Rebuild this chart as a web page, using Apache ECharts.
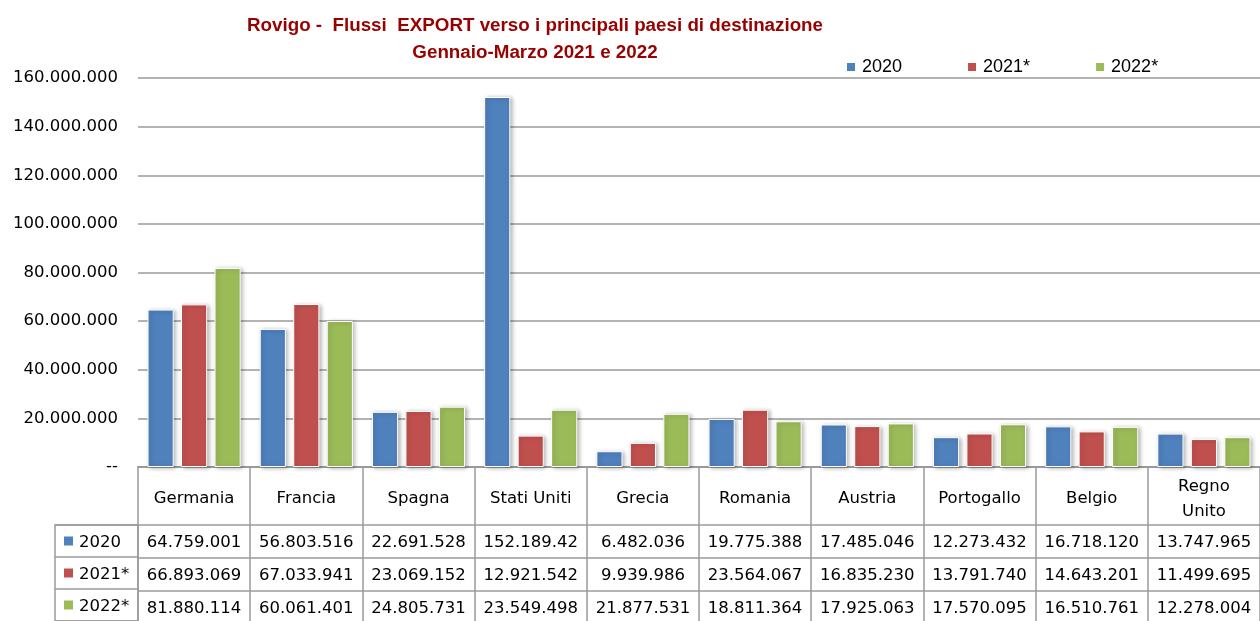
<!DOCTYPE html>
<html>
<head>
<meta charset="utf-8">
<script src="https://cdn.jsdelivr.net/npm/echarts@6/dist/echarts.min.js"></script>
<style>
  html, body { margin: 0; padding: 0; background: #fff; }
  #chart { width: 1260px; height: 621px; }
</style>
</head>
<body>
<div id="chart"></div>
<script>
// paesi di destinazione
var paesi = ['Germania', 'Francia', 'Spagna', 'Stati Uniti', 'Grecia', 'Romania', 'Austria', 'Portogallo', 'Belgio', 'Regno\nUnito']
var anni = ['2020', '2021*', '2022*']
var colori = ['#4F81BD', '#C0504D', '#9BBB59']

var export2020 = [64759001, 56803516, 22691528, 152189420, 6482036, 19775388, 17485046, 12273432, 16718120, 13747965]
var export2021 = [66893069, 67033941, 23069152, 12921542, 9939986, 23564067, 16835230, 13791740, 14643201, 11499695]
var export2022 = [81880114, 60061401, 24805731, 23549498, 21877531, 18811364, 17925063, 17570095, 16510761, 12278004]
var righe = [export2020, export2021, export2022]

var yMax = 160000000
var yStep = 20000000

function puntini(v) {
  return String(v).replace(/\B(?=(\d{3})+(?!\d))/g, '.')
}

var grigio = '#9a9a9a'
var fontTab = 'DejaVu Sans'

// righe della tabella dati: un asse x per ogni anno
var assiTabella = righe.map(function (riga, i) {
  return {
    type: 'category',
    gridIndex: 0,
    position: 'bottom',
    offset: 58 + i * 33,
    data: paesi,
    axisLine: { show: true, lineStyle: { color: grigio, width: 1.5 } },
    axisTick: { show: false },
    axisLabel: {
      interval: 0,
      margin: 18,
      verticalAlign: 'middle',
      fontFamily: fontTab,
      fontSize: 16.5,
      color: '#000',
      // la cella di Excel taglia oltre 10 caratteri
      formatter: function (val, idx) {
        return puntini(riga[idx]).slice(0, 10)
      }
    }
  }
})

var series = righe.map(function (riga, i) {
  return {
    name: anni[i],
    type: 'bar',
    xAxisIndex: 0,
    yAxisIndex: 0,
    data: riga,
    barGap: '28%',
    barCategoryGap: '17%',
    itemStyle: {
      color: colori[i],
      borderColor: '#fff',
      borderWidth: 1,
      shadowColor: 'rgba(0,0,0,0.28)',
      shadowBlur: 4,
      shadowOffsetX: 2,
      shadowOffsetY: 1
    }
  }
})

var option = {
  animation: false,
  backgroundColor: '#fff',
  title: {
    text: 'Rovigo -  Flussi  EXPORT verso i principali paesi di destinazione\nGennaio-Marzo 2021 e 2022',
    left: 530,
    top: 7,
    textAlign: 'center',
    textStyle: {
      color: '#990000',
      fontFamily: 'Liberation Sans',
      fontWeight: 'bold',
      fontSize: 18.8,
      lineHeight: 27
    }
  },
  legend: {
    data: anni,
    left: 840,
    top: 53,
    itemWidth: 10,
    itemHeight: 10,
    itemGap: 64,
    icon: 'rect',
    textStyle: { fontFamily: 'Liberation Sans', fontSize: 18, color: '#000', padding: [0, 0, 0, 1] }
  },
  grid: [
    { left: 138, right: -5, top: 78, bottom: 154 },
    // colonna legenda della tabella
    { left: 55, width: 83, top: 525, height: 99, show: true, borderColor: grigio, borderWidth: 1.5 }
  ],
  xAxis: [
    {
      type: 'category',
      gridIndex: 0,
      data: paesi,
      axisLine: { show: true, lineStyle: { color: grigio, width: 2 } },
      axisTick: { show: true, interval: 0, length: 156, lineStyle: { color: grigio, width: 1.5 } },
      axisLabel: {
        interval: 0,
        margin: 32,
        verticalAlign: 'middle',
        fontFamily: fontTab,
        fontSize: 16.5,
        lineHeight: 25,
        color: '#000'
      }
    }
  ].concat(assiTabella).concat([
    { type: 'value', gridIndex: 1, show: false }
  ]),
  yAxis: [
    {
      type: 'value',
      gridIndex: 0,
      min: 0,
      max: yMax,
      interval: yStep,
      axisLine: { show: false },
      axisTick: { show: false },
      splitLine: { lineStyle: { color: grigio, width: 1.5 } },
      axisLabel: {
        margin: 20,
        fontFamily: fontTab,
        fontSize: 16.5,
        color: '#000',
        formatter: function (v) {
          return v === 0 ? '--' : puntini(v)
        }
      }
    },
    {
      type: 'category',
      gridIndex: 1,
      inverse: true,
      data: anni,
      axisLine: { show: false },
      axisTick: { show: false },
      splitLine: { show: true, interval: 0, lineStyle: { color: grigio, width: 1.5 } },
      axisLabel: {
        inside: true,
        align: 'left',
        margin: 9,
        formatter: function (v, idx) {
          return '{q' + idx + '|}{t|' + v + '}'
        },
        rich: {
          q0: { width: 9, height: 9, backgroundColor: colori[0] },
          q1: { width: 9, height: 9, backgroundColor: colori[1] },
          q2: { width: 9, height: 9, backgroundColor: colori[2] },
          t: { fontFamily: fontTab, fontSize: 16.5, color: '#000', padding: [3, 0, 0, 6] }
        }
      }
    }
  ],
  series: series
}

var chart = echarts.init(document.getElementById('chart'))
chart.setOption(option)
</script>
</body>
</html>
